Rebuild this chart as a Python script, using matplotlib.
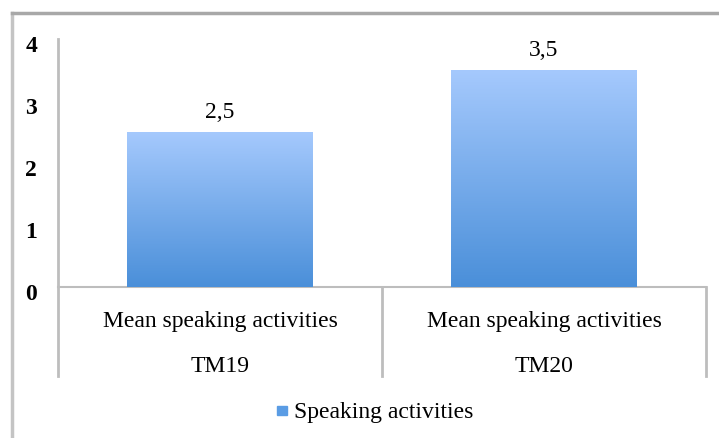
import numpy as np
import matplotlib.pyplot as plt
import matplotlib.transforms as mtransforms
from matplotlib.lines import Line2D
from matplotlib.patches import Rectangle
from matplotlib.colors import LinearSegmentedColormap

# Dados do gráfico
category_lines = ["Mean speaking activities", "Mean speaking activities"]
category_groups = ["TM19", "TM20"]
values = [2.5, 3.5]
value_labels = ["2,5", "3,5"]
series_name = "Speaking activities"
y_ticks = [0, 1, 2, 3, 4]

plt.rcParams['font.family'] = ['Liberation Serif', 'DejaVu Serif']
fs = 17

W, H = 719, 439
fig = plt.figure(figsize=(W / 100, H / 100), dpi=100)
ax = fig.add_axes([58 / W, 1 - 288 / H, (706 - 58) / W, (288 - 40) / H])

gray = '#bdbdbd'
x = np.arange(len(values))
bars = ax.bar(x, values, width=0.571, color='#74aef0', zorder=2)

# Gradiente vertical em cada barra
grad = LinearSegmentedColormap.from_list('g', ['#4a8fd9', '#a5c9fd'])
for b in bars:
    x0, w, h = b.get_x(), b.get_width(), b.get_height()
    img = ax.imshow(np.linspace(0, 1, 256).reshape(-1, 1), cmap=grad, origin='lower',
                    extent=[x0, x0 + w, 0, h], aspect='auto', zorder=3)
    img.set_clip_path(b)

for xi, v, lab in zip(x, values, value_labels):
    ax.annotate(lab, (xi, v), xytext=(0, 11), textcoords='offset points',
                ha='center', va='baseline', fontsize=fs)

ax.set_xlim(-0.5, 1.5)
ax.set_ylim(0, 4)
ax.set_yticks(y_ticks)
ax.set_yticklabels([str(t) for t in y_ticks], fontsize=fs, fontweight='bold')
ax.tick_params(axis='y', length=0, pad=15)
shift = mtransforms.ScaledTranslation(0, -4 / 100, fig.dpi_scale_trans)
for lbl in ax.get_yticklabels():
    lbl.set_transform(lbl.get_transform() + shift)
ax.set_xticks([])

for s in ['top', 'right', 'left']:
    ax.spines[s].set_visible(False)
ax.spines['bottom'].set_color(gray)
ax.spines['bottom'].set_linewidth(1.5)

# Linhas do eixo e separadores das categorias
trans = ax.get_xaxis_transform()
low = -(377 - 288) / (288 - 40)
ax.add_line(Line2D([-0.5, -0.5], [low, 1.0], transform=trans, color=gray, lw=2, clip_on=False))
for xs in [0.5, 1.5]:
    ax.add_line(Line2D([xs, xs], [low, 0.0], transform=trans, color=gray, lw=2, clip_on=False))

for xi, l1, l2 in zip(x, category_lines, category_groups):
    ax.text(xi, -(327 - 288) / 248, l1, transform=trans, ha='center', va='baseline', fontsize=fs)
    ax.text(xi, -(372 - 288) / 248, l2, transform=trans, ha='center', va='baseline', fontsize=fs)

# Legenda
fig.patches.append(Rectangle((277 / W, 1 - 416 / H), 10 / W, 9 / H,
                             transform=fig.transFigure, color='#5a9ce4', figure=fig))
fig.text(294 / W, 1 - 418 / H, series_name, ha='left', va='baseline', fontsize=fs)

# Borda externa (apenas esquerda e topo visíveis)
fig.add_artist(Line2D([12 / W, 12 / W], [0, 1 - 14 / H], color='#c4c4c4', lw=2.5))
fig.add_artist(Line2D([12 / W, 1], [1 - 14 / H, 1 - 14 / H], color='#a8a8a8', lw=2.5))

fig.savefig('out.png', dpi=100)
